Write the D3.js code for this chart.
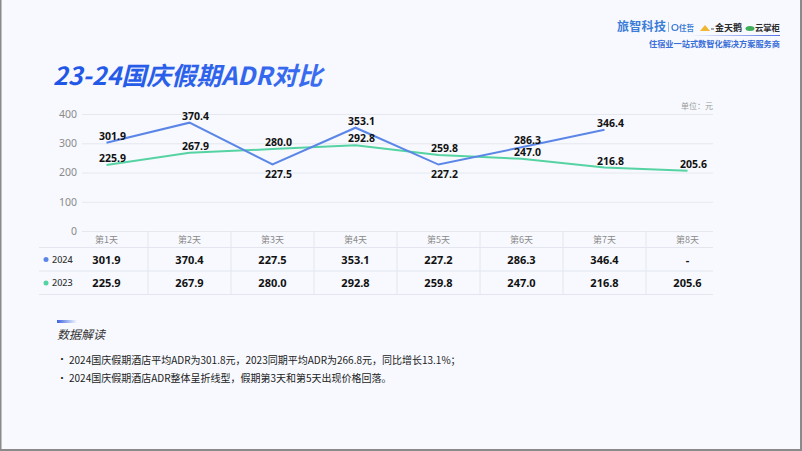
<!DOCTYPE html>
<html>
<head>
<meta charset="utf-8">
<script src="https://cdn.jsdelivr.net/npm/d3@7"></script>
<style>
  html, body { margin: 0; padding: 0; background: #f7f9fe; }
  svg { display: block; font-family: "Noto Sans CJK SC", "Noto Sans", sans-serif; }
</style>
</head>
<body>
<div id="chart"></div>
<script>
// data
const days = ["第1天", "第2天", "第3天", "第4天", "第5天", "第6天", "第7天", "第8天"];
const adr2024 = [301.9, 370.4, 227.5, 353.1, 227.2, 286.3, 346.4, null];
const adr2023 = [225.9, 267.9, 280.0, 292.8, 259.8, 247.0, 216.8, 205.6];
const yTicks = [0, 100, 200, 300, 400];
const notes = [
  "2024国庆假期酒店平均ADR为301.8元，2023同期平均ADR为266.8元，同比增长13.1%；",
  "2024国庆假期酒店ADR整体呈折线型，假期第3天和第5天出现价格回落。"
];

const width = 802, height = 451;
const color24 = "#5b86e8", color23 = "#56d3a2";

const svg = d3.select("#chart").append("svg")
  .attr("width", width)
  .attr("height", height);

const defs = svg.append("defs");
const tg = defs.append("linearGradient").attr("id", "titleGrad");
tg.append("stop").attr("offset", "0%").attr("stop-color", "#1f55e6");
tg.append("stop").attr("offset", "100%").attr("stop-color", "#3a6df0");
const bg = defs.append("linearGradient").attr("id", "barGrad");
bg.append("stop").attr("offset", "0%").attr("stop-color", "#3c64e0");
bg.append("stop").attr("offset", "100%").attr("stop-color", "#3c64e0").attr("stop-opacity", 0);
const lg = defs.append("linearGradient").attr("id", "logoLine");
lg.append("stop").attr("offset", "0%").attr("stop-color", "#5470e8").attr("stop-opacity", 0);
lg.append("stop").attr("offset", "100%").attr("stop-color", "#5470e8");

// page background + frame
svg.append("rect").attr("width", width).attr("height", height).attr("fill", "#f7f9fe");
svg.append("path")
  .attr("d", `M0.5,0 V${height - 1} H${width - 1} V0`)
  .attr("fill", "none").attr("stroke", "#8a8a8a").attr("stroke-width", 2);

// logo block top right
const logo = svg.append("g").attr("id", "logo");
logo.append("text").attr("x", 617).attr("y", 31).attr("font-size", 12).attr("font-weight", 700)
  .attr("fill", "#3b7cd8").attr("letter-spacing", 0.3).text("旅智科技");
logo.append("line").attr("x1", 668.5).attr("x2", 668.5).attr("y1", 22).attr("y2", 32)
  .attr("stroke", "#9bb6e6").attr("stroke-width", 1);
logo.append("circle").attr("cx", 675).attr("cy", 27.5).attr("r", 3).attr("fill", "none")
  .attr("stroke", "#3b7cd8").attr("stroke-width", 1.2);
logo.append("text").attr("x", 679).attr("y", 30.5).attr("font-size", 7.5).attr("font-weight", 700)
  .attr("fill", "#3b7cd8").text("住哲");
logo.append("path").attr("d", "M700,31 L705,25 L710,31 Z").attr("fill", "#f2b731");
logo.append("line").attr("x1", 711).attr("x2", 714).attr("y1", 29).attr("y2", 29)
  .attr("stroke", "#555").attr("stroke-width", 1);
logo.append("text").attr("x", 715).attr("y", 31).attr("font-size", 9).attr("font-weight", 700)
  .attr("fill", "#2b2b2b").text("金天鹅");
logo.append("ellipse").attr("cx", 750).attr("cy", 28.5).attr("rx", 4.5).attr("ry", 2.5).attr("fill", "#3fae5a");
logo.append("text").attr("x", 755).attr("y", 31).attr("font-size", 8.3).attr("font-weight", 700)
  .attr("fill", "#2b2b2b").text("云掌柜");
logo.append("rect").attr("x", 690).attr("y", 35).attr("width", 90).attr("height", 1)
  .attr("fill", "url(#logoLine)");
logo.append("text").attr("x", 780).attr("y", 47).attr("text-anchor", "end").attr("font-size", 8.2)
  .attr("font-weight", 700).attr("fill", "#3b6fd9").text("住宿业一站式数智化解决方案服务商");

// title
svg.append("text")
  .attr("x", 53).attr("y", 85)
  .attr("font-size", 25).attr("font-weight", 700).attr("font-style", "italic")
  .attr("fill", "url(#titleGrad)")
  .text("23-24国庆假期ADR对比");

// scales
const x = d3.scaleBand().domain(days).range([65, 729]);
const y = d3.scaleLinear().domain([0, 400]).range([231, 114]);
const cx = d => x(d) + x.bandwidth() / 2;
const gridLeft = 82, gridRight = 713;

svg.append("text").attr("x", gridRight).attr("y", 109).attr("text-anchor", "end")
  .attr("font-size", 8).attr("fill", "#999").text("单位：元");

// y axis + grid
const yAxis = svg.append("g")
  .attr("transform", `translate(${gridLeft},0)`)
  .call(d3.axisLeft(y).tickValues(yTicks).tickSize(-(gridRight - gridLeft)).tickPadding(5).tickFormat(d3.format("d")));
yAxis.select(".domain").remove();
yAxis.selectAll(".tick line").attr("stroke", "#e5e8ef");
yAxis.selectAll(".tick text").attr("fill", "#8a8a8a").attr("font-size", 10.5)
  .attr("font-family", "'Noto Sans', sans-serif");

// lines
const line = d3.line()
  .defined(d => d.v != null)
  .x(d => cx(d.day))
  .y(d => y(d.v));
const s24 = days.map((day, i) => ({ day, v: adr2024[i], other: adr2023[i] }));
const s23 = days.map((day, i) => ({ day, v: adr2023[i], other: adr2024[i] }));

svg.append("path").datum(s23).attr("d", line)
  .attr("fill", "none").attr("stroke", color23).attr("stroke-width", 2);
svg.append("path").datum(s24).attr("d", line)
  .attr("fill", "none").attr("stroke", color24).attr("stroke-width", 2);

// point labels
function labels(series, cls, below) {
  svg.append("g").attr("class", cls)
    .selectAll("text")
    .data(series.filter(d => d.v != null))
    .join("text")
    .attr("x", d => cx(d.day) + 6)
    .attr("y", d => below(d) ? y(d.v) + 13.5 : y(d.v) - 3)
    .attr("text-anchor", "middle")
    .attr("font-size", 10.5).attr("font-weight", 700).attr("fill", "#111")
    .attr("font-family", "'Noto Sans', sans-serif")
    .text(d => d.v.toFixed(1));
}
labels(s23, "lab23", () => false);
labels(s24, "lab24", d => d.other != null && d.v < d.other);

// data table under the chart
const table = svg.append("g").attr("class", "table");
const rowLines = [247.5, 271, 294.5];
table.selectAll("line.h").data(rowLines).join("line").attr("class", "h")
  .attr("x1", 39).attr("x2", gridRight).attr("y1", d => d).attr("y2", d => d)
  .attr("stroke", "#e3e6ee");
table.selectAll("line.v").data(days.slice(1)).join("line").attr("class", "v")
  .attr("x1", d => x(d)).attr("x2", d => x(d)).attr("y1", 231).attr("y2", 294.5)
  .attr("stroke", "#e3e6ee");
table.selectAll("text.head").data(days).join("text").attr("class", "head")
  .attr("x", cx).attr("y", 243).attr("text-anchor", "middle")
  .attr("font-size", 9).attr("fill", "#8a8a8a").text(d => d);

const rows = [
  { name: "2024", values: adr2024, color: color24, y: 259.5 },
  { name: "2023", values: adr2023, color: color23, y: 283 }
];
rows.forEach(r => {
  table.append("circle").attr("cx", 46).attr("cy", r.y).attr("r", 2.5).attr("fill", r.color);
  table.append("text").attr("x", 52).attr("y", r.y + 3.3).attr("font-size", 9).attr("font-weight", 500)
    .attr("fill", "#333").attr("font-family", "'Noto Sans', sans-serif").text(r.name);
  table.selectAll(null).data(days).join("text")
    .attr("x", cx).attr("y", r.y + 4)
    .attr("text-anchor", "middle").attr("font-size", 11).attr("font-weight", 700).attr("fill", "#111")
    .attr("font-family", "'Noto Sans', sans-serif")
    .text((d, i) => r.values[i] == null ? "-" : r.values[i].toFixed(1));
});

// notes block
svg.append("rect").attr("x", 57).attr("y", 320).attr("width", 20).attr("height", 3)
  .attr("fill", "url(#barGrad)");
svg.append("text").attr("x", 57).attr("y", 338.5).attr("font-size", 12).attr("font-style", "italic")
  .attr("fill", "#333").text("数据解读");
const ng = svg.append("g").attr("class", "notes");
ng.selectAll("text.bul").data(notes).join("text").attr("class", "bul")
  .attr("x", 57).attr("y", (d, i) => 363 + i * 18.5)
  .attr("font-size", 10).attr("fill", "#222").text("•");
ng.selectAll("text.note").data(notes).join("text").attr("class", "note")
  .attr("x", 69).attr("y", (d, i) => 363.5 + i * 18.5)
  .attr("font-size", 10).attr("fill", "#222").text(d => d);
</script>
</body>
</html>
